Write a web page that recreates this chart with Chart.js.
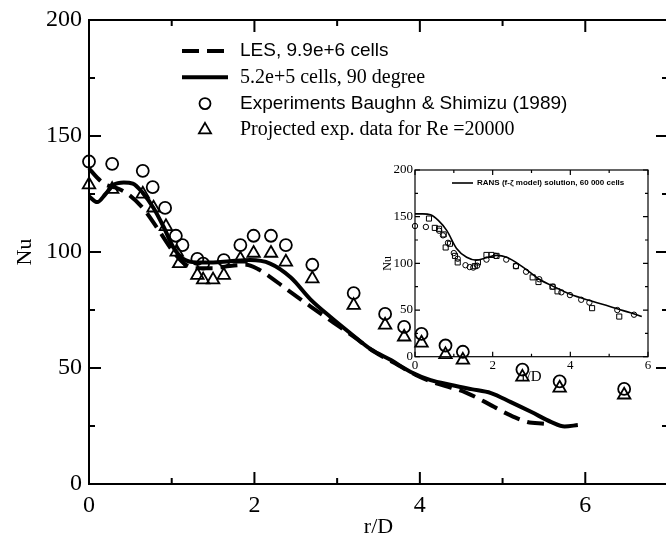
<!DOCTYPE html>
<html>
<head>
<meta charset="utf-8">
<script src="https://cdn.jsdelivr.net/npm/chart.js@4.4.0/dist/chart.umd.min.js"></script>
<style>
html, body { margin: 0; padding: 0; background: #fff; overflow: hidden; }
#wrap { position: relative; width: 666px; height: 543px; overflow: hidden; }
#inset { position: absolute; left: 375px; top: 158px; z-index: 1; }
#main { position: absolute; left: 0; top: 0; z-index: 2; }
</style>
</head>
<body>
<div id="wrap">
  <canvas id="inset" width="285" height="228"></canvas>
  <canvas id="main" width="668" height="543"></canvas>
</div>
<script>
// main plot: LES (dashed) and coarse run (solid)
var lesX = [0, 0.1, 0.2, 0.3, 0.45, 0.65, 0.85, 1.0, 1.15, 1.3, 1.5, 1.7, 1.9, 2.05, 2.2, 2.35, 2.68, 2.96, 3.2, 3.45, 3.7, 3.95, 4.15, 4.38, 4.55, 4.78, 5.07, 5.3, 5.5];
var lesY = [136, 132, 129, 128, 125.5, 119, 109, 101, 95, 93, 93, 94, 94.5, 92.5, 89, 85, 76.5, 69.5, 63.5, 57, 52, 47, 44, 41.5, 39.5, 35.5, 30, 26.7, 26];
var coarseX = [0, 0.1, 0.2, 0.3, 0.42, 0.53, 0.65, 0.78, 0.9, 1.02, 1.14, 1.3, 1.5, 1.7, 1.95, 2.19, 2.44, 2.68, 2.92, 3.16, 3.41, 3.65, 3.89, 4.13, 4.38, 4.62, 4.86, 5.1, 5.35, 5.59, 5.75, 5.91];
var coarseY = [124, 121.5, 125, 129, 130, 129.5, 125.5, 119, 111, 102, 97, 95.5, 95.5, 96, 96.5, 95, 89, 79.5, 72, 65, 58, 53.4, 48.3, 44.8, 42.7, 40.9, 39.2, 35.3, 31, 26.7, 24.8, 25.4];

// experiments (circles) and projected data (triangles)
var expX = [0, 0.28, 0.65, 0.77, 0.92, 1.05, 1.13, 1.31, 1.38, 1.63, 1.83, 1.99, 2.2, 2.38, 2.7, 3.2, 3.58, 3.81, 4.02, 4.31, 4.52, 5.24, 5.69, 6.47];
var expY = [139, 138, 135, 128, 119, 107, 103, 97, 95, 96.5, 103, 107, 107, 103, 94.5, 82.3, 73.3, 67.7, 64.7, 59.7, 57, 49.3, 44.2, 41];
var projX = [0, 0.28, 0.65, 0.78, 0.93, 1.06, 1.09, 1.31, 1.38, 1.5, 1.63, 1.83, 1.99, 2.2, 2.38, 2.7, 3.2, 3.58, 3.81, 4.02, 4.31, 4.52, 5.24, 5.69, 6.47];
var projY = [129, 127, 125, 119, 111, 100, 95, 90, 88, 88, 90, 97, 99.5, 99.5, 95.7, 88.5, 77, 68.5, 63.4, 60.8, 55.8, 53.4, 46.1, 41.4, 38.4];

// inset: RANS line, circles, squares
var ransX = [0, 0.2, 0.4, 0.6, 0.82, 1.07, 1.33, 1.58, 1.84, 2.1, 2.36, 2.78, 3.2, 3.63, 4.05, 4.48, 4.92, 5.23, 5.55, 5.84];
var ransY = [153, 153, 152, 146, 135, 116, 106.5, 103.5, 106, 108.5, 106.5, 96, 83, 74, 66, 60.5, 55, 51, 47, 43];
var insetCircX = [0, 0.28, 0.62, 0.72, 0.85, 1.0, 1.1, 1.3, 1.41, 1.5, 1.6, 1.84, 2.08, 2.35, 2.6, 2.86, 3.2, 3.55, 3.77, 3.99, 4.28, 4.49, 5.21, 5.64];
var insetCircY = [140, 139, 135, 130, 122, 111, 105, 98, 96, 95.5, 97.5, 104, 108, 104, 97, 91, 83, 75, 69, 66, 61, 58, 50, 45];
var insetSqX = [0.36, 0.51, 0.62, 0.74, 0.79, 0.9, 1.03, 1.1, 1.54, 1.62, 1.84, 1.97, 2.1, 2.6, 3.03, 3.18, 3.54, 3.67, 4.56, 5.26];
var insetSqY = [148, 138, 137, 131, 117, 121, 108, 101, 97, 101, 109, 109, 108, 97, 85, 80, 75, 70, 52, 43];

// ticks
var xTicks = [0, 2, 4, 6];
var xMinor = [1, 3, 5];
var yTicks = [0, 50, 100, 150, 200];
var yMinor = [25, 75, 125, 175];

Chart.defaults.color = '#000';

function pts(xs, ys) {
  return xs.map(function(x, i) { return {x: x, y: ys[i]}; });
}

// box round the plot with inward ticks on all four sides
var frameTicks = {
  id: 'frameTicks',
  afterDraw: function(chart, args, opts) {
    var ctx = chart.ctx, a = chart.chartArea;
    var xs = chart.scales.x, ys = chart.scales.y;
    ctx.save();
    ctx.strokeStyle = '#000';
    ctx.lineWidth = opts.lineWidth;
    ctx.strokeRect(a.left, a.top, a.right - a.left, a.bottom - a.top);
    ctx.beginPath();
    function xt(v, len) {
      var p = xs.getPixelForValue(v);
      ctx.moveTo(p, a.bottom); ctx.lineTo(p, a.bottom - len);
      ctx.moveTo(p, a.top); ctx.lineTo(p, a.top + len);
    }
    function yt(v, len) {
      var p = ys.getPixelForValue(v);
      ctx.moveTo(a.left, p); ctx.lineTo(a.left + len, p);
      ctx.moveTo(a.right, p); ctx.lineTo(a.right - len, p);
    }
    xs.ticks.forEach(function(t) { xt(t.value, opts.major); });
    xMinor.forEach(function(v) { xt(v, opts.minor); });
    ys.ticks.forEach(function(t) { yt(t.value, opts.major); });
    yMinor.forEach(function(v) { yt(v, opts.minor); });
    ctx.stroke();
    ctx.restore();
  }
};

// legend drawn inside the plot, one font per row
var sampleLegend = {
  id: 'sampleLegend',
  afterDraw: function(chart, args, opts) {
    var ctx = chart.ctx, a = chart.chartArea;
    var row = 0;
    chart.data.datasets.forEach(function(ds) {
      if (!ds.label) return;
      var y = a.top + opts.top + row * opts.rowGap;
      var x0 = a.left + opts.left;
      ctx.save();
      ctx.strokeStyle = '#000';
      if (ds.showLine) {
        ctx.lineWidth = ds.borderWidth;
        ctx.setLineDash(ds.borderDash || []);
        ctx.beginPath();
        ctx.moveTo(x0, y);
        ctx.lineTo(x0 + opts.sampleWidth, y);
        ctx.stroke();
        ctx.setLineDash([]);
      } else {
        ctx.lineWidth = ds.pointBorderWidth;
        ctx.fillStyle = 'rgba(0,0,0,0)';
        Chart.helpers.drawPoint(ctx, {pointStyle: ds.pointStyle, radius: opts.markerRadius[row] || 5, rotation: 0, borderWidth: ds.pointBorderWidth}, x0 + opts.sampleWidth / 2, y);
      }
      ctx.fillStyle = '#000';
      ctx.font = opts.fonts[row];
      ctx.textBaseline = 'middle';
      ctx.fillText(ds.label, x0 + opts.sampleWidth + opts.gap, y);
      ctx.restore();
      row++;
    });
  }
};

// no extra room for the edge labels, keep the plot box where it is
function noEdgePad(s) {
  s.paddingLeft = 0; s.paddingRight = 0; s.paddingTop = 0; s.paddingBottom = 0;
}

var serif = 'Liberation Serif';
var sans = 'Liberation Sans';

// ---- inset ----
new Chart(document.getElementById('inset'), {
  type: 'scatter',
  data: {
    datasets: [
      {label: 'RANS (f-\u03B6 model) solution, 60 000 cells', data: pts(ransX, ransY), showLine: true,
       borderColor: '#000', borderWidth: 1.6, pointRadius: 0, cubicInterpolationMode: 'monotone', clip: 6},
      {data: pts(insetCircX, insetCircY), pointStyle: 'circle', pointRadius: 2.7,
       pointBorderColor: '#000', pointBackgroundColor: 'rgba(0,0,0,0)', pointBorderWidth: 1, clip: 6},
      {data: pts(insetSqX, insetSqY), pointStyle: 'rect', pointRadius: 3.6,
       pointBorderColor: '#000', pointBackgroundColor: 'rgba(0,0,0,0)', pointBorderWidth: 1, clip: 6}
    ]
  },
  options: {
    responsive: false,
    animation: false,
    events: [],
    layout: {autoPadding: false, padding: {left: 0, top: 12, right: 12, bottom: 0}},
    plugins: {
      legend: {display: false},
      tooltip: {enabled: false},
      frameTicks: {lineWidth: 1.2, major: 5, minor: 3},
      sampleLegend: {left: 37, top: 13, rowGap: 12, sampleWidth: 21, gap: 4, markerRadius: [],
                     fonts: ['bold 8px "' + sans + '"']}
    },
    scales: {
      x: {
        type: 'linear', min: 0, max: 6,
        afterBuildTicks: function(s) { s.ticks = xTicks.map(function(v) { return {value: v}; }); },
        afterFit: function(s) { s.height = 29.3; noEdgePad(s); },
        grid: {display: false, drawTicks: false},
        border: {display: false},
        ticks: {autoSkip: false, maxRotation: 0, padding: 1, font: {family: serif, size: 13}},
        title: {display: true, text: 'r/D', font: {family: serif, size: 15}, padding: {top: 0, bottom: 0}}
      },
      y: {
        type: 'linear', min: 0, max: 200,
        afterBuildTicks: function(s) { s.ticks = yTicks.map(function(v) { return {value: v}; }); },
        afterFit: function(s) { s.width = 40; noEdgePad(s); },
        grid: {display: false, drawTicks: false},
        border: {display: false},
        ticks: {autoSkip: false, padding: 2, font: {family: serif, size: 13}},
        title: {display: true, text: 'Nu', font: {family: serif, size: 12}, padding: {top: 6, bottom: 0}}
      }
    }
  },
  plugins: [frameTicks, sampleLegend]
});

// ---- main ----
new Chart(document.getElementById('main'), {
  type: 'scatter',
  data: {
    datasets: [
      {label: 'LES, 9.9e+6 cells', data: pts(lesX, lesY), showLine: true, borderColor: '#000',
       borderWidth: 4, borderDash: [17, 8], pointRadius: 0, cubicInterpolationMode: 'monotone', clip: 8},
      {label: '5.2e+5 cells, 90 degree', data: pts(coarseX, coarseY), showLine: true, borderColor: '#000',
       borderWidth: 4, pointRadius: 0, cubicInterpolationMode: 'monotone', clip: 8},
      {label: 'Experiments Baughn & Shimizu (1989)', data: pts(expX, expY), pointStyle: 'circle', pointRadius: 6,
       pointBorderColor: '#000', pointBackgroundColor: 'rgba(0,0,0,0)', pointBorderWidth: 1.8, clip: 10},
      {label: 'Projected exp. data for Re =20000', data: pts(projX, projY), pointStyle: 'triangle', pointRadius: 7.2,
       pointBorderColor: '#000', pointBackgroundColor: 'rgba(0,0,0,0)', pointBorderWidth: 1.8, clip: 10}
    ]
  },
  options: {
    responsive: false,
    animation: false,
    events: [],
    layout: {autoPadding: false, padding: {left: 0, top: 20, right: 0, bottom: 0}},
    plugins: {
      legend: {display: false},
      tooltip: {enabled: false},
      frameTicks: {lineWidth: 2, major: 12, minor: 6},
      sampleLegend: {left: 93, top: 31, rowGap: 26.3, sampleWidth: 46, gap: 12, markerRadius: [0, 0, 5.5, 7],
                     fonts: ['19px "' + sans + '"', '20px "' + serif + '"', '19px "' + sans + '"', '20px "' + serif + '"']}
    },
    scales: {
      x: {
        type: 'linear', min: 0, max: 7,
        afterBuildTicks: function(s) { s.ticks = xTicks.map(function(v) { return {value: v}; }); },
        afterFit: function(s) { s.height = 59; noEdgePad(s); },
        grid: {display: false, drawTicks: false},
        border: {display: false},
        ticks: {autoSkip: false, maxRotation: 0, padding: 7, font: {family: serif, size: 24}},
        title: {display: true, text: 'r/D', font: {family: serif, size: 22}, padding: {top: 0, bottom: 3}}
      },
      y: {
        type: 'linear', min: 0, max: 200,
        afterBuildTicks: function(s) { s.ticks = yTicks.map(function(v) { return {value: v}; }); },
        afterFit: function(s) { s.width = 89; noEdgePad(s); },
        grid: {display: false, drawTicks: false},
        border: {display: false},
        ticks: {autoSkip: false, padding: 7, font: {family: serif, size: 24}},
        title: {display: true, text: 'Nu', font: {family: serif, size: 22}, padding: {top: 12, bottom: 0}}
      }
    }
  },
  plugins: [frameTicks, sampleLegend]
});
</script>
</body>
</html>
